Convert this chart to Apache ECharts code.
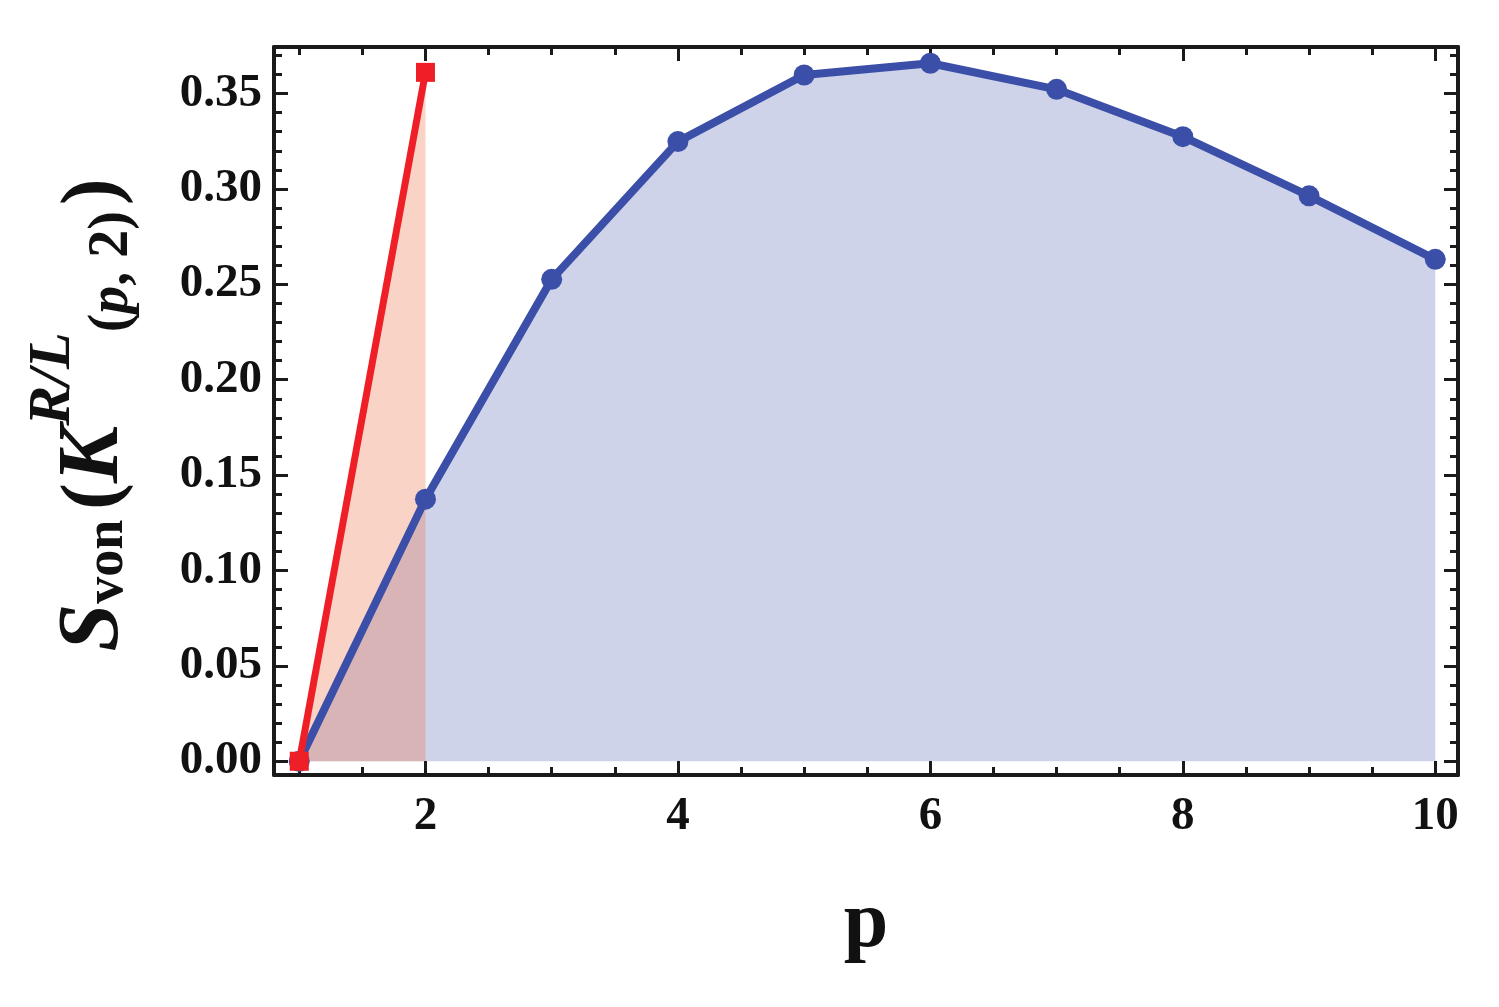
<!DOCTYPE html>
<html>
<head>
<meta charset="utf-8">
<script src="https://cdn.jsdelivr.net/npm/echarts@6/dist/echarts.min.js"></script>
<style>
html,body{margin:0;padding:0;background:#fff;}
#main{width:1499px;height:1007px;}
</style>
</head>
<body>
<div id="main"></div>
<script>
// ---- data ----
const pBlue = [1, 2, 3, 4, 5, 6, 7, 8, 9, 10];
const sBlue = [0, 0.1374, 0.2526, 0.3248, 0.3597, 0.3659, 0.3522, 0.3274, 0.2964, 0.2631];
const pRed = [1, 2];
const sRed = [0, 0.3611];
const xMajorTicks = [2, 4, 6, 8, 10];
const yMajorTicks = [0, 0.05, 0.10, 0.15, 0.20, 0.25, 0.30, 0.35];
const xMinorTicks = [1, 1.5, 2, 2.5, 3, 3.5, 4, 4.5, 5, 5.5, 6, 6.5, 7, 7.5, 8, 8.5, 9, 9.5, 10];
const yMinorTicks = [];
for (let i = 0; i <= 37; i++) yMinorTicks.push(+(i * 0.01).toFixed(2));

const X_MIN = 0.8, X_MAX = 10.18, Y_MIN = -0.0072, Y_MAX = 0.3744;
const FONT = "'Liberation Serif', 'Times New Roman', serif";
const blueLine = '#3b4fa8';
const redLine = '#ee1f26';

function zip(xs, ys) { return xs.map((x, i) => [x, ys[i]]); }

function axis(kind, position, ticks, len, withLine, withLabels, fmt) {
  return {
    type: 'value', position: position,
    min: kind === 'x' ? X_MIN : Y_MIN, max: kind === 'x' ? X_MAX : Y_MAX,
    splitLine: { show: false },
    axisLine: { show: withLine, onZero: false, lineStyle: { color: '#1a1a1a', width: 4 } },
    axisTick: { show: true, inside: true, length: len, customValues: ticks, lineStyle: { color: '#1a1a1a', width: 3 } },
    axisLabel: { show: withLabels, customValues: ticks, formatter: fmt,
      fontFamily: FONT, fontWeight: 'bold', fontSize: 47, color: '#111',
      margin: kind === 'x' ? 18 : 12 },
    minorTick: { show: false }
  };
}

const xAxes = [
  axis('x', 'bottom', xMajorTicks, 14, true, true, v => String(v)),
  axis('x', 'bottom', xMinorTicks, 8, false, false),
  axis('x', 'top', xMajorTicks, 14, true, false),
  axis('x', 'top', xMinorTicks, 8, false, false)
];
xAxes[0].name = 'p';
xAxes[0].nameLocation = 'middle';
xAxes[0].nameGap = 110;
xAxes[0].nameMoveOverlap = false;
xAxes[0].nameTextStyle = { fontFamily: FONT, fontWeight: 'bold', fontSize: 80, color: '#111' };

const yAxes = [
  axis('y', 'left', yMajorTicks, 14, true, true, v => v.toFixed(2)),
  axis('y', 'left', yMinorTicks, 8, false, false),
  axis('y', 'right', yMajorTicks, 14, true, false),
  axis('y', 'right', yMinorTicks, 8, false, false)
];
yAxes[0].name = '{S|S}{sub|von}{par1|(}{K|K}{sup|R/L}{s2|(}{s2p|p}{s2|, 2)}{par2|)}';
yAxes[0].nameLocation = 'middle';
yAxes[0].nameRotate = 90;
yAxes[0].nameGap = 136;
yAxes[0].nameMoveOverlap = false;
yAxes[0].nameTextStyle = {
  fontFamily: FONT, fontWeight: 'bold', color: '#111', fontSize: 84,
  rich: {
    S:    { fontFamily: FONT, fontWeight: 'bold', fontStyle: 'italic', fontSize: 86, lineHeight: 86, color: '#111', verticalAlign: 'middle' },
    K:    { fontFamily: FONT, fontWeight: 'bold', fontStyle: 'italic', fontSize: 86, lineHeight: 86, color: '#111', verticalAlign: 'middle' },
    par1: { fontFamily: FONT, fontWeight: 'bold', fontSize: 80, lineHeight: 86, color: '#111', padding: [0, 0, 0, 10], verticalAlign: 'middle' },
    par2: { fontFamily: FONT, fontWeight: 'bold', fontSize: 80, lineHeight: 86, color: '#111', padding: [0, 8, 0, 6], verticalAlign: 'middle' },
    sub:  { fontFamily: FONT, fontWeight: 'bold', fontSize: 54, lineHeight: 54, color: '#111', padding: [26, 0, 0, 0], verticalAlign: 'middle' },
    sup:  { fontFamily: FONT, fontWeight: 'bold', fontStyle: 'italic', fontSize: 60, lineHeight: 60, color: '#111', padding: [0, 0, 83, 0], verticalAlign: 'middle' },
    s2:   { fontFamily: FONT, fontWeight: 'bold', fontSize: 56, lineHeight: 56, color: '#111', padding: [36, 0, 0, 0], verticalAlign: 'middle' },
    s2p:  { fontFamily: FONT, fontWeight: 'bold', fontStyle: 'italic', fontSize: 56, lineHeight: 56, color: '#111', padding: [36, 0, 0, 0], verticalAlign: 'middle' }
  }
};

const chart = echarts.init(document.getElementById('main'), null, { renderer: 'canvas' });
chart.setOption({
  animation: false,
  backgroundColor: '#fff',
  grid: { left: 274, right: 41, top: 47, bottom: 232, containLabel: false, outerBoundsMode: 'none' },
  xAxis: xAxes,
  yAxis: yAxes,
  series: [
    { // blue area
      type: 'line', data: zip(pBlue, sBlue), z: 1, symbol: 'none', silent: true,
      lineStyle: { width: 0, opacity: 0 },
      areaStyle: { color: 'rgba(58,79,168,0.25)', opacity: 1, origin: 'auto' }
    },
    { // red area
      type: 'line', data: zip(pRed, sRed), z: 2, symbol: 'none', silent: true,
      lineStyle: { width: 0, opacity: 0 },
      areaStyle: { color: 'rgba(240,110,70,0.3)', opacity: 1, origin: 'auto' }
    },
    { // blue line + markers
      type: 'line', data: zip(pBlue, sBlue), z: 3, clip: false,
      symbol: 'circle', symbolSize: 21, showAllSymbol: true,
      lineStyle: { color: blueLine, width: 8 },
      itemStyle: { color: blueLine }
    },
    { // red line + markers
      type: 'line', data: zip(pRed, sRed), z: 4, clip: false,
      symbol: 'rect', symbolSize: 19,
      lineStyle: { color: redLine, width: 7 },
      itemStyle: { color: redLine }
    }
  ]
});
</script>
</body>
</html>
